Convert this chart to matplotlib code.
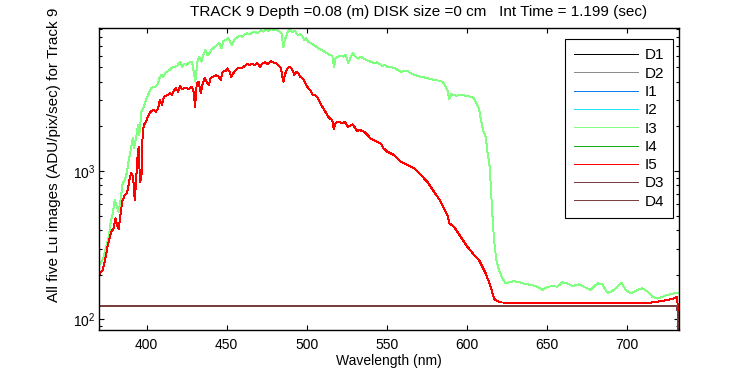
import matplotlib
matplotlib.use("Agg")
import matplotlib.pyplot as plt
from matplotlib.ticker import LogLocator, NullFormatter, FixedLocator

plt.rcParams["font.family"] = ["Liberation Sans", "DejaVu Sans"]
plt.rcParams["mathtext.default"] = "regular"

# --- data (wavelength nm, ADU/pix/sec) ---
# I1, I2, I4 and I5 sit on top of each other; one trace is read for them
bright_wl = [
    370.0, 372.5, 374.6, 375.7, 377.8, 379.3, 380.5, 381.4, 382.6, 383.4,
    384.7, 386.2, 387.7, 389.0, 390.2, 391.5, 392.5, 393.2, 394.2, 395.0,
    395.8, 396.7, 397.5, 398.3, 399.6, 400.8, 402.0, 403.3, 404.6, 405.8,
    407.0, 408.3, 409.6, 410.8, 412.0, 413.3, 414.6, 415.8, 417.0, 418.3,
    419.6, 420.8, 422.0, 423.3, 424.6, 425.8, 427.0, 428.3, 429.4, 430.2,
    431.3, 432.5, 433.8, 435.0, 436.3, 437.5, 438.8, 440.0, 441.7, 443.3,
    445.0, 446.2, 447.5, 449.2, 450.4, 451.7, 452.9, 454.2, 455.8, 457.5,
    459.2, 460.8, 462.5, 464.2, 465.8, 467.5, 469.2, 470.8, 472.5, 474.2,
    475.8, 477.5, 479.2, 480.8, 482.5, 483.8, 485.4, 486.7, 488.0, 489.6,
    491.0, 492.3, 493.5, 494.8, 496.0, 497.3, 498.5, 499.8, 501.0, 502.3,
    503.5, 504.8, 506.0, 507.3, 508.5, 509.8, 511.0, 512.3, 513.5, 514.8,
    516.0, 516.9, 518.1, 519.4, 521.0, 522.7, 524.0, 525.6, 527.3, 528.5,
    529.8, 531.5, 533.1, 534.8, 536.5, 538.1, 539.8, 541.5, 543.1, 544.8,
    546.5, 548.1, 550.4, 554.6, 558.8, 562.9, 567.1, 571.3, 575.4, 579.6,
    583.8, 587.9, 589.2, 592.1, 596.3, 600.4, 604.6, 607.7, 609.8, 611.9,
    613.9, 615.6, 617.1, 618.5, 621.3, 640.0, 660.0, 690.0, 709.6, 715.8,
    722.1, 728.3, 731.7, 732.3,
]
bright_lu = [
    199, 215, 271, 317, 389, 411, 480, 433, 407, 491,
    621, 689, 707, 847, 965, 916, 637, 805, 1218, 1459,
    847, 897, 1840, 2040, 2170, 2320, 2490, 2540, 2580, 2510,
    2640, 3010, 2790, 3170, 3220, 3250, 3340, 3250, 3480, 3610,
    3420, 3740, 3560, 3610, 3640, 3570, 3610, 3700, 3420, 2700,
    3900, 4000, 3340, 3900, 4220, 4000, 3800, 4260, 4320, 4440,
    4320, 4110, 4670, 4720, 4920, 4670, 4320, 4560, 4800, 4970,
    4920, 5050, 5250, 5200, 5250, 5200, 5330, 5050, 5330, 5400,
    5250, 5520, 5400, 5330, 5120, 4970, 4000, 4560, 4920, 5050,
    4800, 4440, 4670, 4560, 4320, 4220, 4050, 3800, 3610, 3520,
    3290, 3250, 3200, 3060, 2860, 2710, 2580, 2450, 2320, 2240,
    2210, 1920, 2100, 2150, 2130, 2100, 2150, 1990, 2020, 2060,
    1990, 1860, 1890, 1860, 1820, 1750, 1660, 1620, 1590, 1560,
    1520, 1420, 1350, 1282, 1155, 1098, 1043, 940, 847, 725,
    621, 505, 444, 421, 360, 309, 272, 251, 226, 204,
    179, 158, 138, 134, 130, 129, 129, 128, 128, 130,
    133, 137, 142, 60,
]

i3_wl = [
    370.8, 372.9, 375.0, 376.3, 377.5, 378.8, 380.0, 381.3, 382.5, 383.8,
    385.0, 386.3, 387.5, 388.8, 390.0, 391.3, 392.1, 393.3, 394.6, 395.4,
    396.7, 397.9, 399.2, 400.4, 401.7, 402.9, 404.2, 405.4, 406.7, 407.9,
    409.2, 410.4, 411.7, 412.9, 414.2, 415.8, 417.5, 419.2, 420.8, 422.1,
    423.3, 425.0, 426.7, 428.3, 429.6, 430.4, 431.7, 432.9, 434.2, 435.4,
    436.7, 437.9, 439.2, 440.4, 442.1, 443.8, 445.4, 446.7, 447.9, 449.6,
    450.8, 452.1, 453.3, 454.6, 456.3, 457.9, 459.6, 461.3, 462.9, 464.6,
    466.3, 467.9, 469.6, 471.3, 472.9, 474.6, 476.3, 477.9, 479.6, 481.3,
    482.9, 484.2, 485.4, 486.7, 488.1, 489.4, 491.0, 492.7, 494.4, 496.0,
    497.3, 498.5, 499.8, 501.0, 502.7, 504.4, 506.0, 507.7, 509.4, 511.0,
    512.7, 514.4, 516.0, 517.1, 518.1, 519.8, 521.5, 523.1, 524.4, 526.0,
    527.7, 528.9, 530.6, 532.3, 533.9, 535.6, 537.3, 538.9, 540.6, 542.3,
    543.9, 545.6, 547.3, 548.9, 550.4, 554.6, 558.8, 562.9, 567.1, 571.3,
    575.4, 579.6, 583.8, 585.8, 587.9, 589.2, 590.4, 593.1, 596.3, 599.4,
    602.5, 604.6, 605.6, 606.7, 607.7, 608.9, 610.2, 611.9, 613.1, 614.4,
    615.2, 616.0, 617.1, 618.5, 620.2, 622.3, 624.4, 626.5, 629.6, 632.7,
    636.9, 641.1, 644.2, 647.3, 650.4, 653.6, 656.7, 659.8, 663.0, 666.1,
    670.2, 673.3, 677.5, 681.7, 684.8, 688.0, 691.0, 694.2, 696.7, 699.4,
    702.5, 706.7, 709.8, 713.0, 716.1, 719.2, 722.3, 725.4, 729.6, 732.1,
]
i3_lu = [
    235, 258, 317, 360, 455, 518, 637, 574, 531, 654,
    826, 870, 965, 1186, 1386, 1662, 1422, 1662, 2040, 1750,
    2510, 2640, 2930, 3170, 3420, 3610, 3700, 3700, 3800, 4220,
    4440, 4320, 4620, 4670, 4800, 4970, 5050, 5120, 5450, 5050,
    5250, 5200, 5400, 5450, 4500, 4000, 5450, 5900, 5450, 6050,
    6550, 6050, 6220, 6550, 6790, 7070, 7260, 6710, 7520, 7640,
    7920, 7440, 7070, 7640, 7920, 8170, 8050, 8350, 8480, 8350,
    8620, 8620, 8480, 8930, 8700, 9050, 8790, 9050, 8930, 8930,
    8700, 8480, 6880, 7850, 8620, 9050, 8620, 8790, 8250, 8350,
    8050, 7640, 7850, 7440, 7260, 7070, 6880, 6640, 6550, 6370,
    6220, 6050, 5990, 5050, 5810, 5900, 5990, 5900, 6050, 5330,
    5900, 6220, 5900, 5720, 5900, 5720, 5600, 5520, 5400, 5330,
    5400, 5250, 5120, 5200, 5050, 4970, 4670, 4720, 4440, 4320,
    4220, 4110, 4050, 3900, 3520, 3060, 3290, 3220, 3250, 3220,
    3170, 3090, 2930, 2790, 2640, 2210, 1890, 1700, 1316, 1069,
    745, 518, 343, 251, 215, 189, 175, 178, 181, 178,
    173, 170, 166, 158, 165, 168, 166, 178, 175, 168,
    172, 166, 158, 175, 172, 151, 155, 166, 177, 158,
    150, 158, 162, 154, 142, 138, 142, 146, 150, 150,
]

dark_wl = [370.0, 450.0, 550.0, 650.0, 731.7, 732.3]
dark_lu = [124, 124, 124, 124, 124, 60]

labels = ["D1", "D2", "I1", "I2", "I3", "I4", "I5", "D3", "D4"]
colors = ["#000000", "#8c8c8c", "#0a7ff0", "#22e6f8", "#80ff80",
          "#10b010", "#ff0000", "#7a4040", "#7a4040"]

fig = plt.figure(figsize=(7.5, 3.75), dpi=100)
ax = fig.add_axes([0.1316, 0.12, 0.7733, 0.8045])

for lab, col in zip(labels, colors):
    if lab.startswith("D"):
        x, y = dark_wl, dark_lu
    elif lab == "I3":
        x, y = i3_wl, i3_lu
    else:
        x, y = bright_wl, bright_lu
    ax.plot(x, y, color=col, lw=0.7, label=lab, antialiased=False)

ax.set_yscale("log")
ax.set_xlim(370, 732.5)
ax.set_ylim(84.8, 9160)
ax.xaxis.set_major_locator(FixedLocator([400, 450, 500, 550, 600, 650, 700]))
ax.yaxis.set_major_locator(LogLocator(base=10, numticks=10))
ax.yaxis.set_minor_locator(LogLocator(base=10, subs=range(2, 10), numticks=20))
ax.yaxis.set_minor_formatter(NullFormatter())
ax.tick_params(which="both", direction="in", top=True, right=True, labelsize=10)
ax.tick_params(which="major", length=3.5, width=0.8)
ax.tick_params(which="minor", length=2, width=0.8)
ax.tick_params(axis="x", pad=6)
ax.tick_params(axis="y", pad=2.5)
for sp in ax.spines.values():
    sp.set_linewidth(1)

ax.set_xlabel("Wavelength (nm)", fontsize=10, labelpad=1)
fig.text(54 / 750, 1 - 155 / 375, "All five Lu images (ADU/pix/sec) for Track 9",
         rotation=90, ha="center", va="center", fontsize=11)
fig.text(419 / 750, 1 - 12 / 375,
         "TRACK 9 Depth =0.08 (m) DISK size =0 cm   Int Time = 1.199 (sec)",
         ha="center", va="center", fontsize=11)

leg = ax.legend(loc="upper right", bbox_to_anchor=(0.991, 0.9635), borderaxespad=0,
                fancybox=False, edgecolor="black", framealpha=1, fontsize=11,
                handlelength=4.2, handletextpad=0.45, labelspacing=0.28,
                borderpad=0.6)
leg.get_frame().set_linewidth(0.8)
for h in leg.get_lines():
    h.set_antialiased(False)
    h.set_linewidth(0.7)

fig.savefig("out.png", dpi=100, facecolor="white")
